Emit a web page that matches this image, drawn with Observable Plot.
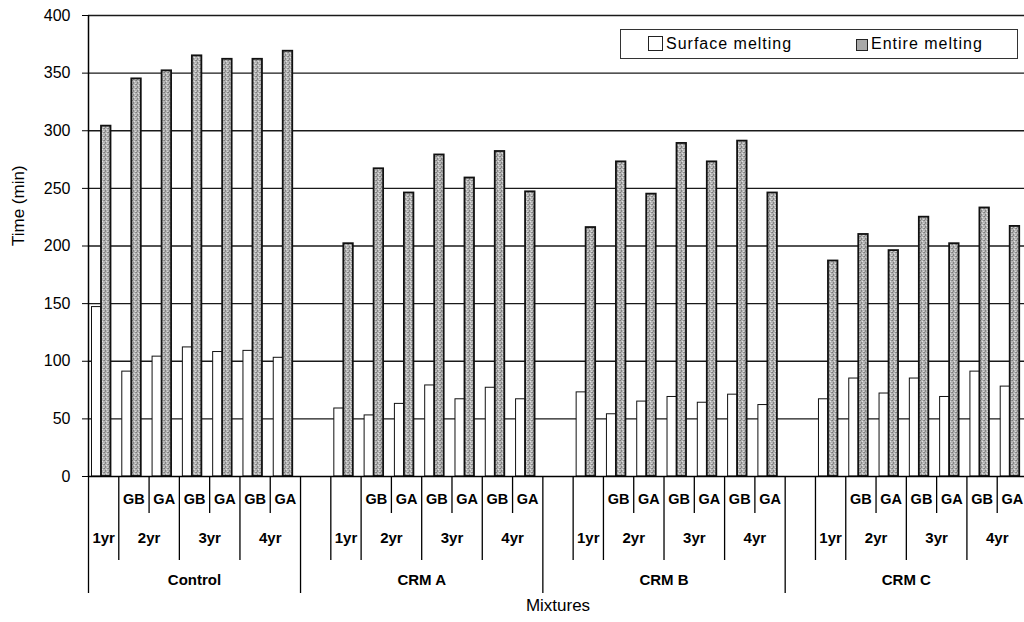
<!DOCTYPE html>
<html>
<head>
<meta charset="utf-8">
<script src="https://cdn.jsdelivr.net/npm/d3@7"></script>
<script src="https://cdn.jsdelivr.net/npm/@observablehq/plot@0.6"></script>
<style>
  html, body { margin: 0; padding: 0; background: #fff; overflow: hidden; width: 1024px; height: 622px; }
  #wrap { position: relative; width: 1030px; height: 622px; }
  .legend { position: absolute; left: 620px; top: 29px; width: 396px; height: 28px; border: 1px solid #333; background: #fff;
            font: 16px "Liberation Sans", Arial, sans-serif; letter-spacing: 1px; color: #000; }
  .legend .item { position: absolute; top: 4px; line-height: 20px; white-space: nowrap; }
  .legend .sw { display: inline-block; vertical-align: -2px; margin-right: 3px; box-sizing: border-box; }
</style>
</head>
<body>
<svg width="0" height="0" style="position:absolute">
  <defs>
    <pattern id="stipple" width="4" height="4" patternUnits="userSpaceOnUse">
      <rect width="4" height="4" fill="#b4b4b4"/>
      <rect x="0" y="0" width="1" height="1" fill="#7a7a7a"/>
      <rect x="2" y="1" width="1" height="1" fill="#e0e0e0"/>
      <rect x="1" y="2" width="1" height="1" fill="#808080"/>
      <rect x="3" y="3" width="1" height="1" fill="#d8d8d8"/>
      <rect x="3" y="0" width="1" height="1" fill="#909090"/>
      <rect x="1" y="3" width="1" height="1" fill="#8a8a8a"/>
    </pattern>
  </defs>
</svg>
<div id="wrap">
  <div class="legend">
    <div class="item" style="left:27px"><span class="sw" style="width:15px;height:15px;border:1px solid #222;background:#fff"></span>Surface melting</div>
    <div class="item" style="left:235px"><span class="sw" style="width:12px;height:12px;border:1px solid #222;background:#a8a8a8"></span>Entire melting</div>
  </div>
</div>
<script>
// ---- data (minutes) ----
const groups = ["Control", "CRM A", "CRM B", "CRM C"];
const ages = ["1yr", "2yr", "2yr", "3yr", "3yr", "4yr", "4yr"];
const curing = ["", "GB", "GA", "GB", "GA", "GB", "GA"];
const seriesNames = ["Surface melting", "Entire melting"];

const surfaceControl = [147, 91, 104, 112, 108, 109, 103];
const entireControl  = [304, 345, 352, 365, 362, 362, 369];
const surfaceCrmA    = [59, 53, 63, 79, 67, 77, 67];
const entireCrmA     = [202, 267, 246, 279, 259, 282, 247];
const surfaceCrmB    = [73, 54, 65, 69, 64, 71, 62];
const entireCrmB     = [216, 273, 245, 289, 273, 291, 246];
const surfaceCrmC    = [67, 85, 72, 85, 69, 91, 78];
const entireCrmC     = [187, 210, 196, 225, 202, 233, 217];

const yTicks = [0, 50, 100, 150, 200, 250, 300, 350, 400];
const yLabel = "Time (min)";
const xLabel = "Mixtures";

// ---- build table ----
const surfaceBy = [surfaceControl, surfaceCrmA, surfaceCrmB, surfaceCrmC];
const entireBy  = [entireControl, entireCrmA, entireCrmB, entireCrmC];
const slots = [];
let n = 0;
groups.forEach((g, gi) => {
  if (gi > 0) slots.push({i: n++, group: g, blank: true});
  ages.forEach((a, k) => slots.push({i: n++, group: g, gi, k, age: a, cure: curing[k],
    surface: surfaceBy[gi][k], entire: entireBy[gi][k]}));
});
const nSlots = n;
const bars = slots.filter(d => !d.blank);

const cureLabels = bars.filter(d => d.cure !== "");
const ageLabels = d3.flatRollup(bars, v => d3.mean(v, d => d.i + 0.5), d => d.group, d => d.age)
  .map(([group, age, x]) => ({group, age, x}));
const groupLabels = d3.flatRollup(slots, v => d3.mean(v, d => d.i + 0.5), d => d.group)
  .map(([group, x]) => ({group, x}));

// boundaries
const groupEdges = [], yearEdges = [], cureEdges = [];
slots.forEach((d, j) => {
  if (d.blank || (d.gi === 0 && d.k === 0)) groupEdges.push(d.i);
  else if (d.k === 0 || d.age !== slots[j - 1].age) yearEdges.push(d.i);
  else cureEdges.push(d.i);
});
groupEdges.push(nSlots);

// ---- layout ----
const W = 1030, H = 622;
const mL = 88, mT = 15, mB = 146, mR = 3;
const plotH = H - mT - mB;          // 461
const step = (W - mL - mR) / nSlots;
const row1 = 513 - 476, row2 = 560 - 476, row3 = 593 - 476;
const barW = 9.5, barStart = 3.5;

const sans = "'Liberation Sans', Arial, sans-serif";

const chart = Plot.plot({
  width: W, height: H,
  marginLeft: mL, marginTop: mT, marginBottom: mB, marginRight: mR,
  style: {fontFamily: sans, background: "transparent", overflow: "visible"},
  x: {type: "linear", domain: [0, nSlots], axis: null},
  y: {domain: [0, 400], axis: null},
  marks: [
    // grid lines
    Plot.ruleY(yTicks.filter(v => v > 0), {stroke: "#1a1a1a", strokeWidth: 1.3}),
    // bars
    Plot.rect(bars, {x1: d => d.i, x2: d => d.i + 1, y1: 0, y2: d => d.surface,
      insetLeft: barStart, insetRight: step - barStart - barW,
      fill: "#ffffff", fillOpacity: 1, stroke: "#111", strokeWidth: 1}),
    Plot.rect(bars, {x1: d => d.i, x2: d => d.i + 1, y1: 0, y2: d => d.entire,
      insetLeft: barStart + barW, insetRight: step - barStart - 2 * barW,
      fill: "url(#stipple)", stroke: "#111", strokeWidth: 1.8}),
    // axis lines
    Plot.ruleY([0], {stroke: "#000", strokeWidth: 1.5}),
    Plot.ruleX([0], {stroke: "#000", strokeWidth: 1.5}),
    Plot.axisY({ticks: yTicks, tickSize: 6, tickPadding: 12, fontSize: 16, label: null,
      stroke: "#000", fill: "#000", style: {letterSpacing: "1px"}}),
    // category table separators
    Plot.ruleX(groupEdges, {x: d => d, insetTop: plotH, insetBottom: -row3, stroke: "#000", strokeWidth: 1.3}),
    Plot.ruleX(yearEdges, {x: d => d, insetTop: plotH, insetBottom: -row2, stroke: "#000", strokeWidth: 1.3}),
    Plot.ruleX(cureEdges, {x: d => d, insetTop: plotH, insetBottom: -row1, stroke: "#000", strokeWidth: 1.3}),
    // category labels
    Plot.text(cureLabels, {x: d => d.i + 0.5, text: "cure", frameAnchor: "bottom", dy: 27,
      fontWeight: "bold", fontSize: 14.5, fill: "#000"}),
    Plot.text(ageLabels, {x: "x", text: "age", frameAnchor: "bottom", dy: 66,
      fontWeight: "bold", fontSize: 15, fill: "#000"}),
    Plot.text(groupLabels, {x: "x", text: "group", frameAnchor: "bottom", dy: 108,
      fontWeight: "bold", fontSize: 15, fill: "#000"}),
    // axis titles
    Plot.text([xLabel], {text: d => d, frameAnchor: "bottom", dy: 134, fontSize: 17, fill: "#000",
      style: {letterSpacing: "1.5px"}}),
    Plot.text([yLabel], {text: d => d, frameAnchor: "left", dx: -70, rotate: -90, fontSize: 17, fill: "#000",
      style: {letterSpacing: "1px"}})
  ]
});
chart.style.position = "absolute";
chart.style.left = "0px";
chart.style.top = "0px";
const wrap = document.getElementById("wrap");
wrap.insertBefore(chart, wrap.firstChild);
</script>
</body>
</html>
